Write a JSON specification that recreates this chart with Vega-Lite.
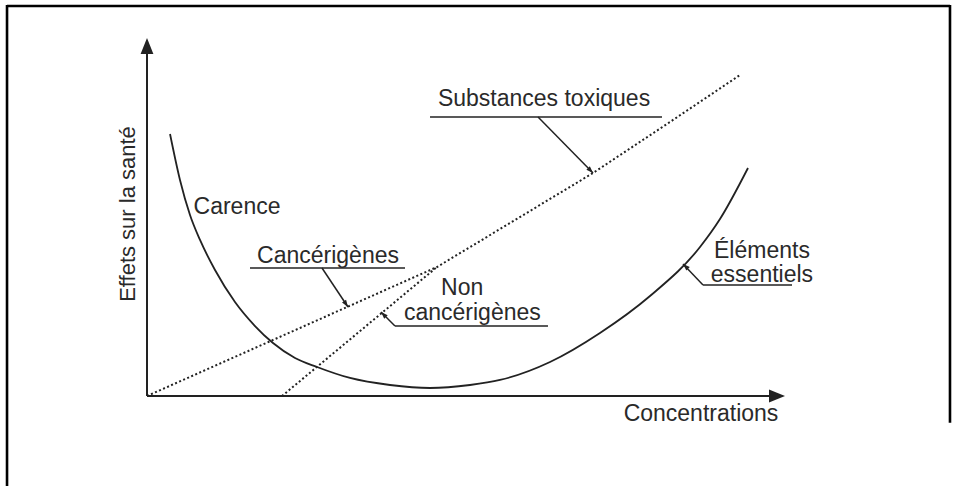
{
  "$schema": "https://vega.github.io/schema/vega-lite/v6.json",
  "width": 638,
  "height": 358,
  "autosize": "none",
  "padding": {"left": 147, "top": 38, "right": 172, "bottom": 90},
  "background": "white",
  "config": {"view": {"stroke": null}},
  "datasets": {
    "curve": [
      {"x": 3.61, "y": 73.18}, {"x": 5.17, "y": 60.34}, {"x": 6.74, "y": 50.56}, {"x": 8.31, "y": 43.58},
      {"x": 10.66, "y": 35.2}, {"x": 13.79, "y": 26.26}, {"x": 16.93, "y": 19.55}, {"x": 19.75, "y": 14.8},
      {"x": 23.2, "y": 10.61}, {"x": 26.65, "y": 8.1}, {"x": 31.82, "y": 5.03}, {"x": 38.09, "y": 3.07},
      {"x": 44.36, "y": 2.23}, {"x": 50.63, "y": 3.07}, {"x": 55.33, "y": 4.47}, {"x": 63.17, "y": 9.5},
      {"x": 71.0, "y": 17.6}, {"x": 78.84, "y": 27.93}, {"x": 86.68, "y": 41.62}, {"x": 89.81, "y": 49.44},
      {"x": 94.2, "y": 63.69}
    ],
    "dotted": [
      {"s": "toxique", "x": 0, "y": 0}, {"s": "toxique", "x": 45.45, "y": 36.03}, {"s": "toxique", "x": 57.68, "y": 49.16},
      {"s": "toxique", "x": 69.91, "y": 62.29}, {"s": "toxique", "x": 81.5, "y": 75.98}, {"s": "toxique", "x": 92.95, "y": 89.66},
      {"s": "non", "x": 21.16, "y": 0}, {"s": "non", "x": 45.45, "y": 36.03}
    ],
    "segs": [
      {"k": "frame", "x": -21.94, "y": 108.94, "x2": 125.86, "y2": 108.94},
      {"k": "frame", "x": -21.94, "y": 109.2, "x2": -21.94, "y2": -25.5},
      {"k": "frame", "x": 125.86, "y": 109.2, "x2": 125.86, "y2": -7.5},
      {"k": "axis", "x": 0, "y": 0, "x2": 0, "y2": 97},
      {"k": "axis", "x": 0, "y": 0, "x2": 98, "y2": 0},
      {"k": "under", "x": 44.36, "y": 77.93, "x2": 80.72, "y2": 77.93},
      {"k": "under", "x": 16.14, "y": 35.75, "x2": 40.44, "y2": 35.75},
      {"k": "under", "x": 38.87, "y": 19.55, "x2": 62.85, "y2": 19.55},
      {"k": "under", "x": 87.15, "y": 31.01, "x2": 101.1, "y2": 31.01},
      {"k": "under", "x": 61.29, "y": 77.93, "x2": 69.91, "y2": 62.29},
      {"k": "under", "x": 27.43, "y": 35.75, "x2": 31.5, "y2": 24.86},
      {"k": "under", "x": 38.87, "y": 19.55, "x2": 36.68, "y2": 23.46},
      {"k": "under", "x": 87.15, "y": 31.01, "x2": 84.01, "y2": 36.87}
    ],
    "tips": [
      {"id": "tox", "x": 69.91, "y": 62.29},
      {"id": "canc", "x": 31.5, "y": 24.86},
      {"id": "non", "x": 36.68, "y": 23.46},
      {"id": "elem", "x": 84.01, "y": 36.87},
      {"id": "yax", "x": 0, "y": 100},
      {"id": "xax", "x": 100, "y": 0}
    ],
    "labels": [
      {"t": "Substances toxiques", "x": 62.23, "y": 81.0},
      {"t": "Carence", "x": 14.11, "y": 50.84},
      {"t": "Cancérigènes", "x": 28.37, "y": 37.15},
      {"t": "Non", "x": 49.4, "y": 28.2},
      {"t": "cancérigènes", "x": 51.0, "y": 21.23},
      {"t": "Éléments", "x": 96.39, "y": 38.55},
      {"t": "essentiels", "x": 96.39, "y": 31.84},
      {"t": "Concentrations", "x": 86.83, "y": -6.98}
    ],
    "ylabel": [
      {"t": "Effets sur la santé", "x": -1.88, "y": 50.84}
    ]
  },
  "encoding": {
    "x": {"field": "x", "type": "quantitative", "scale": {"domain": [0, 100], "nice": false, "zero": false}, "axis": null},
    "y": {"field": "y", "type": "quantitative", "scale": {"domain": [0, 100], "nice": false, "zero": false}, "axis": null}
  },
  "layer": [
    {
      "data": {"name": "segs"},
      "transform": [{"filter": "datum.k === 'frame'"}],
      "mark": {"type": "rule", "color": "#000000", "strokeWidth": 2.6},
      "encoding": {"x2": {"field": "x2"}, "y2": {"field": "y2"}}
    },
    {
      "data": {"name": "segs"},
      "transform": [{"filter": "datum.k === 'axis'"}],
      "mark": {"type": "rule", "color": "#222222", "strokeWidth": 2},
      "encoding": {"x2": {"field": "x2"}, "y2": {"field": "y2"}}
    },
    {
      "data": {"name": "segs"},
      "transform": [{"filter": "datum.k === 'under'"}],
      "mark": {"type": "rule", "color": "#222222", "strokeWidth": 1.5},
      "encoding": {"x2": {"field": "x2"}, "y2": {"field": "y2"}}
    },
    {
      "data": {"name": "curve"},
      "mark": {"type": "line", "color": "#222222", "strokeWidth": 1.8, "interpolate": "monotone"},
      "encoding": {}
    },
    {
      "data": {"name": "dotted"},
      "mark": {"type": "line", "color": "#222222", "strokeWidth": 2, "strokeDash": [2, 2.4]},
      "encoding": {"detail": {"field": "s"}}
    },
    {
      "data": {"name": "tips"},
      "transform": [{"filter": "datum.id === 'yax'"}],
      "mark": {"type": "point", "shape": "M0,0L0.4,1L-0.4,1Z", "size": 1024, "filled": true, "color": "#222222", "opacity": 1, "angle": 0}
    },
    {
      "data": {"name": "tips"},
      "transform": [{"filter": "datum.id === 'xax'"}],
      "mark": {"type": "point", "shape": "M0,0L0.4,1L-0.4,1Z", "size": 1024, "filled": true, "color": "#222222", "opacity": 1, "angle": 90}
    },
    {
      "data": {"name": "tips"},
      "transform": [{"filter": "datum.id === 'tox'"}],
      "mark": {"type": "point", "shape": "M0,0L0.35,1L-0.35,1Z", "size": 196, "filled": true, "color": "#222222", "opacity": 1, "angle": 135.5}
    },
    {
      "data": {"name": "tips"},
      "transform": [{"filter": "datum.id === 'canc'"}],
      "mark": {"type": "point", "shape": "M0,0L0.35,1L-0.35,1Z", "size": 196, "filled": true, "color": "#222222", "opacity": 1, "angle": 146}
    },
    {
      "data": {"name": "tips"},
      "transform": [{"filter": "datum.id === 'non'"}],
      "mark": {"type": "point", "shape": "M0,0L0.35,1L-0.35,1Z", "size": 196, "filled": true, "color": "#222222", "opacity": 1, "angle": 315}
    },
    {
      "data": {"name": "tips"},
      "transform": [{"filter": "datum.id === 'elem'"}],
      "mark": {"type": "point", "shape": "M0,0L0.35,1L-0.35,1Z", "size": 196, "filled": true, "color": "#222222", "opacity": 1, "angle": 313.5}
    },
    {
      "data": {"name": "labels"},
      "mark": {"type": "text", "font": "Liberation Sans", "fontSize": 23, "color": "#2a2a2a", "align": "center", "baseline": "alphabetic"},
      "encoding": {"text": {"field": "t"}}
    },
    {
      "data": {"name": "ylabel"},
      "mark": {"type": "text", "font": "Liberation Sans", "fontSize": 22, "color": "#2a2a2a", "align": "center", "baseline": "alphabetic", "angle": 270},
      "encoding": {"text": {"field": "t"}}
    }
  ]
}
